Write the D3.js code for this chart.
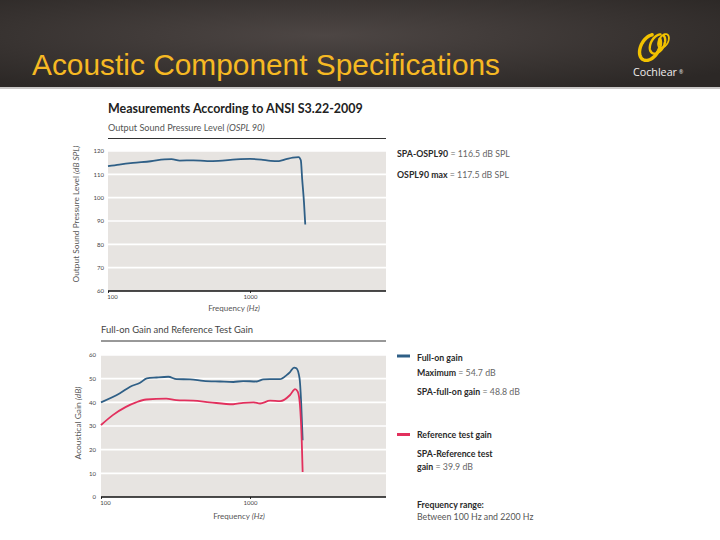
<!DOCTYPE html>
<html><head><meta charset="utf-8">
<script src="https://cdn.jsdelivr.net/npm/d3@7"></script>
<style>html,body{margin:0;padding:0;background:#fff;}svg{display:block;}</style>
</head><body>
<script>
// ---- data ----
const osplFreq = [100,120,150,200,250,280,320,400,500,600,800,1000,1200,1400,1600,1800,2000,2200,2280,2330,2400,2450];
const osplVal  = [113.5,114.2,114.9,115.6,116.4,116.5,115.9,116.0,115.7,115.8,116.4,116.6,116.3,115.8,115.7,116.5,117.2,117.4,116.0,108,98,88.5];
const fullOnFreq = [100,134,157,183,203,236,283,322,396,486,629,773,900,1110,1229,1364,1589,1760,1856,1976,2049,2151,2204,2256];
const fullOnGain = [40.0,43.8,46.6,48.3,50.1,50.5,50.8,49.8,49.7,49.1,48.8,48.6,49.0,48.8,49.7,49.8,49.8,51.5,52.8,54.7,54.4,50.1,40,24];
const refFreq = [100,120,147,172,201,274,320,415,537,771,900,1056,1169,1364,1594,1857,2008,2091,2164,2226,2256];
const refGain = [30.4,34.6,38.1,40.0,41.2,41.6,40.9,40.7,40.0,39.2,39.8,40.0,39.5,40.7,40.5,43.1,45.6,44.5,38.8,23.3,10.6];
const xTicks = [100,1000];
const osplTicks = [60,70,80,90,100,110,120];
const gainTicks = [0,10,20,30,40,50,60];

const W = 720, H = 540;
const svg = d3.select("body").append("svg").attr("width", W).attr("height", H);
const defs = svg.append("defs");

function fit(sel, target) {
  const n = sel.node();
  const w = n.getComputedTextLength();
  const fs = parseFloat(sel.attr("font-size"));
  if (w > 0) sel.attr("font-size", (fs * target / w).toFixed(2));
  return sel;
}

// ---- header ----
const g1 = defs.append("radialGradient").attr("id","hdr").attr("cx","45%").attr("cy","40%").attr("r","70%");
g1.append("stop").attr("offset","0%").attr("stop-color","#4d4644");
g1.append("stop").attr("offset","100%").attr("stop-color","#2c2826");
svg.append("rect").attr("x",0).attr("y",0).attr("width",W).attr("height",88).attr("fill","url(#hdr)");
svg.append("rect").attr("x",0).attr("y",87).attr("width",W).attr("height",2).attr("fill","#c9c7c6");

fit(svg.append("text").attr("x",32).attr("y",75).attr("font-family","'Liberation Sans', Arial, sans-serif")
  .attr("font-size",28).attr("fill","#f6b923").text("Acoustic Component Specifications"), 468);

// logo swirl: three staggered open loops
function loop(cx, cy, rx, ry, rot, a0, a1) {
  const pts = d3.range(a0, a1 + 1, 6).map(a => {
    const t = a * Math.PI / 180, r = rot * Math.PI / 180;
    const px = rx * Math.cos(t), py = ry * Math.sin(t);
    return [cx + px * Math.cos(r) - py * Math.sin(r), cy + px * Math.sin(r) + py * Math.cos(r)];
  });
  return d3.line()(pts);
}
const logo = svg.append("g");
[[650,47.5,9,14,3.4,-60,240],[657.5,44,6.5,10.5,2.4,-80,250],[663.5,41,4.5,7.5,1.8,-90,260]].forEach(([cx,cy,rx,ry,sw,a0,a1])=>{
  logo.append("path").attr("d", loop(cx, cy, rx, ry, 30, a0, a1))
    .attr("fill","none").attr("stroke","#f2c200").attr("stroke-width", sw).attr("stroke-linecap","round");
});
const cl = svg.append("text").attr("x",633).attr("y",76).attr("font-family","'Open Sans', sans-serif")
  .attr("font-size",11).attr("fill","#f0eeee").text("Cochlear");
fit(cl, 44);
svg.append("text").attr("x",679).attr("y",74).attr("font-family","'Open Sans', sans-serif")
  .attr("font-size",5).attr("fill","#f0eeee").text("®");

const FONT = "Lato, 'Open Sans', sans-serif";

// ---- chart builder ----
function chart(o) {
  const x = d3.scaleLog().domain([100,1000]).range([o.x100, o.x1000]);
  const y = d3.scaleLinear().domain(o.yDomain).range([o.bottom, o.top]);
  const g = svg.append("g");
  g.append("rect").attr("x", o.left).attr("y", o.top).attr("width", o.right - o.left)
    .attr("height", o.bottom - o.top).attr("fill", "#e7e4e1");
  g.selectAll(".grid").data(o.yTicks.filter(d => d !== o.yDomain[0])).join("line")
    .attr("x1", o.left).attr("x2", o.right).attr("y1", d => y(d)).attr("y2", d => y(d))
    .attr("stroke", "#ffffff").attr("stroke-width", 1.6);
  const ya = g.append("g").attr("transform", `translate(${o.left},0)`)
    .call(d3.axisLeft(y).tickValues(o.yTicks).tickSize(0).tickPadding(o.yPad));
  ya.select(".domain").remove();
  ya.selectAll("text").attr("font-family", FONT).attr("font-size", 6).attr("fill", "#444");
  const xa = g.append("g").attr("transform", `translate(0,${o.bottom})`)
    .call(d3.axisBottom(x).tickValues(xTicks).tickSize(2).tickFormat(d3.format("d")).tickPadding(2));
  xa.select(".domain").remove();
  xa.selectAll("line").attr("stroke", "#333");
  xa.selectAll("text").attr("font-family", FONT).attr("font-size", 6).attr("fill", "#444")
    .attr("dx", d => d === 100 ? 4 : 0);
  g.append("line").attr("x1", o.left).attr("x2", o.right).attr("y1", o.bottom).attr("y2", o.bottom)
    .attr("stroke", "#111").attr("stroke-width", 1.4);
  const line = d3.line().x(d => x(d[0])).y(d => y(d[1])).curve(d3.curveMonotoneX);
  o.series.forEach(s => {
    g.append("path").datum(d3.zip(s.f, s.v)).attr("d", line).attr("fill", "none")
      .attr("stroke", s.color).attr("stroke-width", 1.8).attr("stroke-linejoin", "round");
  });
  const xt = g.append("text").attr("x", o.xTitleX).attr("y", o.xTitleY).attr("text-anchor", "middle")
    .attr("font-family", FONT).attr("font-size", 8).attr("fill", "#555");
  xt.append("tspan").text("Frequency ");
  xt.append("tspan").attr("font-style", "italic").text("(Hz)");
  const yt = g.append("text").attr("transform", `translate(${o.yTitleX},${o.yTitleY}) rotate(-90)`)
    .attr("text-anchor", "middle").attr("font-family", FONT).attr("font-size", 8).attr("fill", "#555");
  yt.append("tspan").text(o.yTitle);
  yt.append("tspan").attr("font-style", "italic").text(o.yUnit);
  fit(yt, o.yTitleW);
  return {x, y};
}

// ---- top chart ----
fit(svg.append("text").attr("x",108).attr("y",113).attr("font-family",FONT).attr("font-weight","bold")
  .attr("font-size",12).attr("fill","#222").text("Measurements According to ANSI S3.22-2009"), 255);
const st1 = svg.append("text").attr("x",108).attr("y",131).attr("font-family",FONT)
  .attr("font-size",9).attr("fill","#555");
st1.append("tspan").text("Output Sound Pressure Level ");
st1.append("tspan").attr("font-style","italic").text("(OSPL 90)");
fit(st1, 157);
svg.append("line").attr("x1",108).attr("x2",386).attr("y1",138.5).attr("y2",138.5).attr("stroke","#333").attr("stroke-width",1);

chart({
  left:108, right:386, top:151, bottom:291, x100:108, x1000:250,
  yDomain:[60,120], yTicks:osplTicks, yPad:4,
  series:[{f:osplFreq, v:osplVal, color:"#2f5f86"}],
  xTitleX:234, xTitleY:311, yTitleX:79, yTitleY:214, yTitleW:137,
  yTitle:"Output Sound Pressure Level ", yUnit:"(dB SPL)"
});

// ---- bottom chart ----
fit(svg.append("text").attr("x",101).attr("y",333).attr("font-family",FONT)
  .attr("font-size",9).attr("fill","#444").text("Full-on Gain and Reference Test Gain"), 152);
svg.append("line").attr("x1",101).attr("x2",386).attr("y1",341).attr("y2",341).attr("stroke","#333").attr("stroke-width",1);

chart({
  left:101, right:386, top:355, bottom:497, x100:101, x1000:250,
  yDomain:[0,60], yTicks:gainTicks, yPad:5,
  series:[{f:fullOnFreq, v:fullOnGain, color:"#2f5f86"},{f:refFreq, v:refGain, color:"#e2305d"}],
  xTitleX:239, xTitleY:519, yTitleX:81, yTitleY:423, yTitleW:73,
  yTitle:"Acoustical Gain ", yUnit:"(dB)"
});

// ---- legend texts (uniform size) ----
const probe = svg.append("text").attr("font-family", FONT).attr("font-size", 8);
probe.append("tspan").attr("font-weight","bold").text("SPA-full-on gain");
probe.append("tspan").text(" = 48.8 dB");
fit(probe, 103);
const LFS = probe.attr("font-size");
probe.remove();

function rich(x, yb, bold, rest) {
  const t = svg.append("text").attr("x", x).attr("y", yb).attr("font-family", FONT).attr("font-size", LFS);
  t.append("tspan").attr("font-weight","bold").attr("fill","#2a2a2a").text(bold);
  if (rest) t.append("tspan").attr("fill","#666").text(rest);
  return t;
}
rich(397, 157, "SPA-OSPL90", " = 116.5 dB SPL");
rich(397, 178, "OSPL90 max", " = 117.5 dB SPL");

svg.append("line").attr("x1",397).attr("x2",410).attr("y1",356).attr("y2",356).attr("stroke","#2f5f86").attr("stroke-width",3);
rich(417, 361, "Full-on gain", "");
rich(417, 376, "Maximum", " = 54.7 dB");
rich(417, 395, "SPA-full-on gain", " = 48.8 dB");
svg.append("line").attr("x1",397).attr("x2",410).attr("y1",434.5).attr("y2",434.5).attr("stroke","#e2305d").attr("stroke-width",3);
rich(417, 437.5, "Reference test gain", "");
rich(417, 457, "SPA-Reference test", "");
rich(417, 470, "gain", " = 39.9 dB");
rich(417, 508, "Frequency range:", "");
svg.append("text").attr("x",417).attr("y",519.5).attr("font-family",FONT).attr("font-size",LFS)
  .attr("fill","#555").text("Between 100 Hz and 2200 Hz");
</script>
</body></html>
